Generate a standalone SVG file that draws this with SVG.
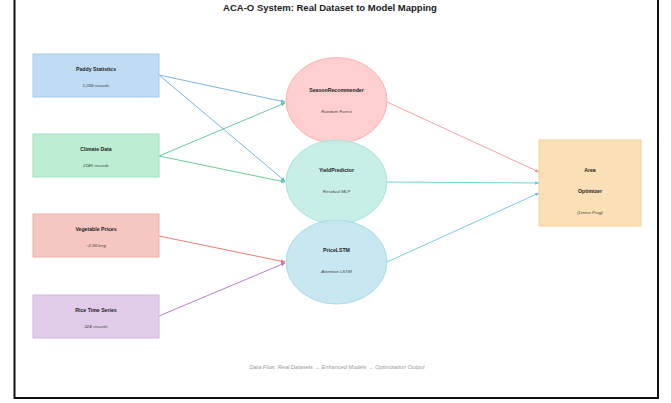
<svg xmlns="http://www.w3.org/2000/svg" width="671" height="403" viewBox="0 0 671 403">
<defs>
<style>
text{font-family:"Liberation Sans",Arial,sans-serif;text-anchor:middle;fill:#222}
.t{font-size:5.2px;font-weight:bold}
.s{font-size:4.4px;font-style:italic;fill:#444}
.c{stroke-width:0.9;fill:none}
</style>
<marker id="ab" viewBox="0 0 10 10" refX="9" refY="5" markerWidth="5" markerHeight="5" orient="auto"><path d="M0,1L10,5L0,9z" fill="#6aaedc"/></marker>
<marker id="ag" viewBox="0 0 10 10" refX="9" refY="5" markerWidth="5" markerHeight="5" orient="auto"><path d="M0,1L10,5L0,9z" fill="#55c98a"/></marker>
<marker id="ar" viewBox="0 0 10 10" refX="9" refY="5" markerWidth="5" markerHeight="5" orient="auto"><path d="M0,1L10,5L0,9z" fill="#e86a6a"/></marker>
<marker id="ap" viewBox="0 0 10 10" refX="9" refY="5" markerWidth="5" markerHeight="5" orient="auto"><path d="M0,1L10,5L0,9z" fill="#a973c9"/></marker>
<marker id="ak" viewBox="0 0 10 10" refX="9" refY="5" markerWidth="5" markerHeight="5" orient="auto"><path d="M0,1L10,5L0,9z" fill="#f29a9a"/></marker>
<marker id="at" viewBox="0 0 10 10" refX="9" refY="5" markerWidth="5" markerHeight="5" orient="auto"><path d="M0,1L10,5L0,9z" fill="#5fcfcf"/></marker>
<marker id="ac" viewBox="0 0 10 10" refX="9" refY="5" markerWidth="5" markerHeight="5" orient="auto"><path d="M0,1L10,5L0,9z" fill="#6cc6d8"/></marker>
</defs>
<rect x="0" y="0" width="671" height="403" fill="#fff"/>
<rect x="14.5" y="-1" width="643.5" height="399" fill="#fff" stroke="#111" stroke-width="2"/>
<text x="330" y="11" style="font-size:9.5px;font-weight:bold">ACA-O System: Real Dataset to Model Mapping</text>
<g id="connectors">
<line class="c" x1="159" y1="75" x2="285" y2="102" stroke="#6aaedc" marker-end="url(#ab)"/>
<line class="c" x1="159" y1="75" x2="285" y2="181" stroke="#6aaedc" marker-end="url(#ab)"/>
<line class="c" x1="159" y1="156" x2="285" y2="103" stroke="#55c98a" marker-end="url(#ag)"/>
<line class="c" x1="159" y1="156" x2="285" y2="182" stroke="#55c98a" marker-end="url(#ag)"/>
<line class="c" x1="159" y1="236" x2="285" y2="262" stroke="#e86a6a" marker-end="url(#ar)"/>
<line class="c" x1="159" y1="316" x2="285" y2="263" stroke="#a973c9" marker-end="url(#ap)"/>
<line class="c" x1="387" y1="102" x2="539" y2="172" stroke="#f29a9a" marker-end="url(#ak)"/>
<line class="c" x1="387" y1="182" x2="539" y2="183" stroke="#5fcfcf" marker-end="url(#at)"/>
<line class="c" x1="387" y1="262" x2="539" y2="193" stroke="#6cc6d8" marker-end="url(#ac)"/>
</g>
<g id="paddy">
<rect x="33" y="54" width="126" height="43" fill="#bfdcf3" stroke="#a6cdee" stroke-width="1"/>
<text class="t" x="96" y="71">Paddy Statistics</text>
<text class="s" x="96" y="87">1,039 records</text>
</g>
<g id="climate">
<rect x="33" y="134" width="126" height="43" fill="#bdeed3" stroke="#a2e4c0" stroke-width="1"/>
<text class="t" x="96" y="151">Climate Data</text>
<text class="s" x="96" y="167">214K records</text>
</g>
<g id="vegetable">
<rect x="33" y="214" width="126" height="43" fill="#f6c6c2" stroke="#f2b0aa" stroke-width="1"/>
<text class="t" x="96" y="231">Vegetable Prices</text>
<text class="s" x="96" y="247">~2.5K/veg</text>
</g>
<g id="rice">
<rect x="33" y="295" width="126" height="43" fill="#e0cce9" stroke="#d2b8e0" stroke-width="1"/>
<text class="t" x="96" y="312">Rice Time Series</text>
<text class="s" x="96" y="328">324 records</text>
</g>
<g id="season">
<ellipse cx="336.5" cy="100.5" rx="50.5" ry="43" fill="#ffc9c9" fill-opacity="0.9" stroke="#ffb3b3" stroke-width="1"/>
<text class="t" x="336.5" y="92">SeasonRecommender</text>
<text class="s" x="336.5" y="113">Random Forest</text>
</g>
<g id="yield">
<ellipse cx="336.5" cy="182" rx="50.5" ry="42" fill="#c2ece6" fill-opacity="0.9" stroke="#a9e3dc" stroke-width="1"/>
<text class="t" x="336.5" y="172">YieldPredictor</text>
<text class="s" x="336.5" y="193">Residual MLP</text>
</g>
<g id="price">
<ellipse cx="336.5" cy="262" rx="50.5" ry="42" fill="#c2e6ef" fill-opacity="0.92" stroke="#a9dbe8" stroke-width="1"/>
<text class="t" x="336.5" y="252">PriceLSTM</text>
<text class="s" x="336.5" y="273">Attention LSTM</text>
</g>
<g id="optimizer">
<rect x="539" y="140" width="102" height="86" fill="#fae0b6" stroke="#f6d298" stroke-width="1"/>
<text class="t" x="590" y="172">Area</text>
<text class="t" x="590" y="193">Optimizer</text>
<text class="s" x="590" y="214">(Linear Prog)</text>
</g>
<text x="337" y="369" style="font-size:5.6px;font-style:italic;fill:#999">Data Flow: Real Datasets → Enhanced Models → Optimization Output</text>
</svg>
